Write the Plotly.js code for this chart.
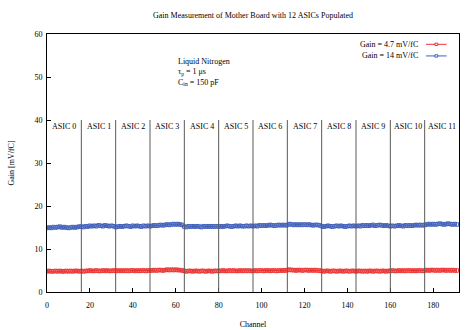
<!DOCTYPE html>
<html>
<head>
<meta charset="utf-8">
<script src="https://cdn.plot.ly/plotly-3.0.1.min.js"></script>
<style>html,body{margin:0;padding:0;background:#fff;}#chart{width:470px;height:330px;}</style>
</head>
<body>
<div id="chart"></div>
<script>
// ---- data ----
const gainHigh = [ // Gain = 14 mV/fC setting, mV/fC per channel
  14.9,15.0,14.9,15.1,15.0,15.1,15.2,15.0,15.1,15.0,14.9,15.0,15.1,15.0,15.1,15.2,
  15.2,15.1,15.3,15.2,15.4,15.3,15.4,15.3,15.5,15.4,15.3,15.5,15.4,15.3,15.4,15.3,
  15.1,15.2,15.3,15.2,15.3,15.4,15.3,15.2,15.4,15.3,15.4,15.3,15.2,15.4,15.3,15.4,
  15.3,15.4,15.5,15.4,15.5,15.6,15.5,15.6,15.7,15.6,15.7,15.8,15.7,15.8,15.7,15.6,
  15.2,15.1,15.3,15.2,15.3,15.2,15.3,15.2,15.1,15.3,15.2,15.3,15.2,15.3,15.2,15.3,
  15.2,15.3,15.2,15.3,15.4,15.3,15.2,15.3,15.4,15.3,15.4,15.3,15.3,15.4,15.3,15.4,
  15.3,15.4,15.3,15.5,15.4,15.5,15.4,15.5,15.6,15.5,15.4,15.5,15.6,15.5,15.6,15.5,
  15.6,15.8,15.7,15.6,15.7,15.6,15.7,15.6,15.7,15.6,15.7,15.6,15.5,15.6,15.6,15.5,
  15.3,15.2,15.3,15.4,15.3,15.2,15.3,15.4,15.3,15.4,15.3,15.2,15.3,15.4,15.3,15.4,
  15.3,15.4,15.3,15.5,15.4,15.5,15.4,15.5,15.6,15.4,15.5,15.6,15.5,15.4,15.5,15.4,
  15.3,15.4,15.3,15.4,15.5,15.4,15.3,15.5,15.4,15.5,15.4,15.5,15.6,15.5,15.6,15.5,
  15.6,15.7,15.8,15.7,15.8,15.7,15.8,15.9,15.8,15.7,15.8,15.9,15.8,15.7,15.8,15.7
];
const gainLow = [ // Gain = 4.7 mV/fC setting
  4.8,4.9,4.8,4.8,4.9,4.8,4.9,4.8,4.8,4.9,4.8,4.9,4.8,4.9,4.9,4.8,
  4.9,4.8,4.9,4.9,5.0,4.9,4.9,5.0,4.9,4.9,5.0,4.9,5.0,4.9,4.9,5.0,
  4.9,5.0,4.9,5.0,4.9,5.0,4.9,5.0,5.0,4.9,5.0,4.9,5.0,5.0,4.9,5.0,
  5.0,5.0,5.1,5.0,5.1,5.1,5.0,5.1,5.2,5.1,5.2,5.1,5.2,5.1,5.1,5.0,
  4.9,4.8,4.9,4.9,4.8,4.9,4.9,4.8,4.9,4.9,4.8,4.9,4.9,4.8,4.9,4.9,
  4.9,4.9,5.0,4.9,4.9,5.0,4.9,5.0,4.9,4.9,5.0,4.9,5.0,4.9,5.0,4.9,
  4.9,5.0,4.9,5.0,5.0,4.9,5.0,5.0,4.9,5.0,5.0,4.9,5.0,5.0,5.0,5.0,
  5.1,5.2,5.1,5.1,5.0,5.1,5.1,5.0,5.1,5.1,5.0,5.1,5.0,5.1,5.0,5.0,
  4.9,4.8,4.9,4.9,4.8,4.9,4.9,4.8,4.9,4.9,4.8,4.9,4.9,4.8,4.9,4.9,
  4.8,4.9,4.9,4.8,4.9,4.8,4.9,4.9,4.8,4.9,4.9,4.8,4.9,4.9,4.8,4.9,
  4.9,5.0,4.9,4.9,5.0,4.9,5.0,4.9,5.0,5.0,4.9,5.0,4.9,5.0,5.0,4.9,
  5.0,5.1,5.0,5.1,5.1,5.0,5.1,5.0,5.1,5.1,5.0,5.1,5.0,5.1,5.0,5.0
];
const seriesNames = ["Gain = 4.7 mV/fC", "Gain = 14 mV/fC"];
const asicLabels = ["ASIC 0","ASIC 1","ASIC 2","ASIC 3","ASIC 4","ASIC 5","ASIC 6","ASIC 7","ASIC 8","ASIC 9","ASIC 10","ASIC 11"];
const asicCenters = [8,24,40,56,72,88,104,120,136,152,168,184];
const asicBoundaries = [16,32,48,64,80,96,112,128,144,160,176];
const xTicks = [0,20,40,60,80,100,120,140,160,180];
const yTicks = [0,10,20,30,40,50,60];

// ---- style ----
const FONT = "Liberation Serif, Times New Roman, serif";
const RED = "rgb(236,52,52)";
const BLUE = "rgb(66,96,186)";

const traces = [
  {y: gainLow, name: seriesNames[0], type: "scatter", mode: "lines+markers",
   line: {color: RED, width: 1}, marker: {symbol: "square-open", size: 3.5, color: RED, line: {width: 1}}},
  {y: gainHigh, name: seriesNames[1], type: "scatter", mode: "lines+markers",
   line: {color: BLUE, width: 1}, marker: {symbol: "square-open", size: 3.5, color: BLUE, line: {width: 1}}}
];

const shapes = asicBoundaries.map(b => ({
  type: "line", xref: "x", yref: "y", x0: b, x1: b, y0: 0, y1: 40,
  line: {color: "rgb(90,90,90)", width: 1}
}));

const annotations = asicLabels.map((t, i) => ({
  text: t, x: asicCenters[i], y: 38.5, xref: "x", yref: "y",
  showarrow: false, xanchor: "center", yanchor: "middle",
  font: {family: FONT, size: 8, color: "#000"}
}));
annotations.push({
  text: "Liquid Nitrogen<br>τ<sub>p</sub> = 1 μs<br>C<sub>in</sub> = 150 pF",
  x: 60.3, y: 55.2, xref: "x", yref: "y", showarrow: false, align: "left",
  xanchor: "left", yanchor: "top", font: {family: FONT, size: 8, color: "#000"}
});

// custom legend: text on the left, sample on the right (gnuplot style)
const legendRows = [0.96, 0.915];
const legendColors = [RED, BLUE];
seriesNames.forEach((n, i) => {
  annotations.push({
    text: n, xref: "paper", yref: "paper", x: 0.905, y: legendRows[i],
    xanchor: "right", yanchor: "middle", showarrow: false,
    font: {family: FONT, size: 8, color: "#000"}
  });
  shapes.push({type: "line", xref: "paper", yref: "paper", x0: 0.92, x1: 0.97,
    y0: legendRows[i], y1: legendRows[i], line: {color: legendColors[i], width: 1}});
  shapes.push({type: "rect", xref: "paper", yref: "paper", x0: 0.9415, x1: 0.9485,
    y0: legendRows[i] - 0.0045, y1: legendRows[i] + 0.0045,
    line: {color: legendColors[i], width: 1}, fillcolor: "#fff"});
});

const layout = {
  width: 470, height: 330,
  margin: {l: 47, r: 11, t: 34, b: 38},
  paper_bgcolor: "#fff", plot_bgcolor: "#fff",
  showlegend: false,
  title: {text: "Gain Measurement of Mother Board with 12 ASICs Populated",
    font: {family: FONT, size: 8, color: "#000"},
    x: 0.5, xref: "paper", y: 1 - 15/330, yref: "container", yanchor: "middle"},
  xaxis: {range: [0, 192], tickvals: xTicks, ticktext: xTicks.map(String),
    ticks: "inside", ticklen: 4, tickcolor: "#000", showgrid: false, zeroline: false,
    showline: true, linecolor: "#000", linewidth: 1, mirror: true,
    ticklabelstandoff: 5,
    tickfont: {family: FONT, size: 8, color: "#000"},
    title: {text: "Channel", font: {family: FONT, size: 8, color: "#000"}, standoff: 12}},
  yaxis: {range: [0, 60], tickvals: yTicks, ticktext: yTicks.map(String),
    ticks: "inside", ticklen: 4, tickcolor: "#000", showgrid: false, zeroline: false,
    showline: true, linecolor: "#000", linewidth: 1, mirror: true,
    ticklabelstandoff: 2,
    tickfont: {family: FONT, size: 8, color: "#000"},
    title: {text: "Gain [mV/fC]", font: {family: FONT, size: 8, color: "#000"}, standoff: 18}},
  shapes: shapes,
  annotations: annotations
};

Plotly.newPlot("chart", traces, layout, {staticPlot: true, displayModeBar: false});
</script>
</body>
</html>
